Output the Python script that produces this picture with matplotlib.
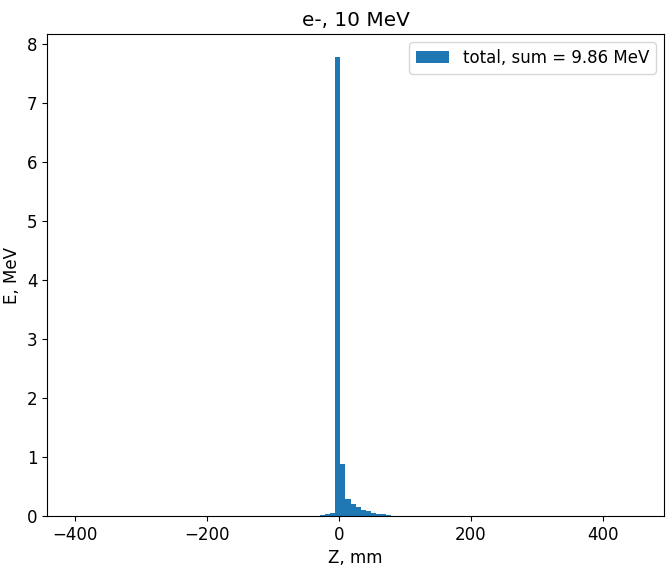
import numpy as np
import matplotlib
matplotlib.use("Agg")
import matplotlib.pyplot as plt

# bin edges of the energy deposit histogram, mm
edges = np.linspace(-400, 450, 113)

# energy per bin (MeV), only the bins around the peak are non-zero
first_bin = 48
values = [0.01, 0.02, 0.04, 0.06,
          7.78, 0.88, 0.29, 0.20, 0.16, 0.11, 0.08, 0.06,
          0.04, 0.03, 0.02, 0.01, 0.005]

title = "e-, 10 MeV"
label = "total, sum = 9.86 MeV"

e = np.zeros(len(edges) - 1)
e[first_bin:first_bin + len(values)] = values
centers = (edges[:-1] + edges[1:]) / 2

plt.rcParams['font.size'] = 12
fig = plt.figure(figsize=(6.66, 5.78), dpi=100)
ax = fig.add_axes([0.0706, 0.107, 0.9264, 0.834])

ax.hist(centers, bins=edges, weights=e, label=label)
ax.set_title(title)
ax.set_xlabel("Z, mm")
ax.set_ylabel("E, MeV")
ax.set_xticks([-400, -200, 0, 200, 400])
ax.legend(loc="upper right")

fig.savefig("out.png")
